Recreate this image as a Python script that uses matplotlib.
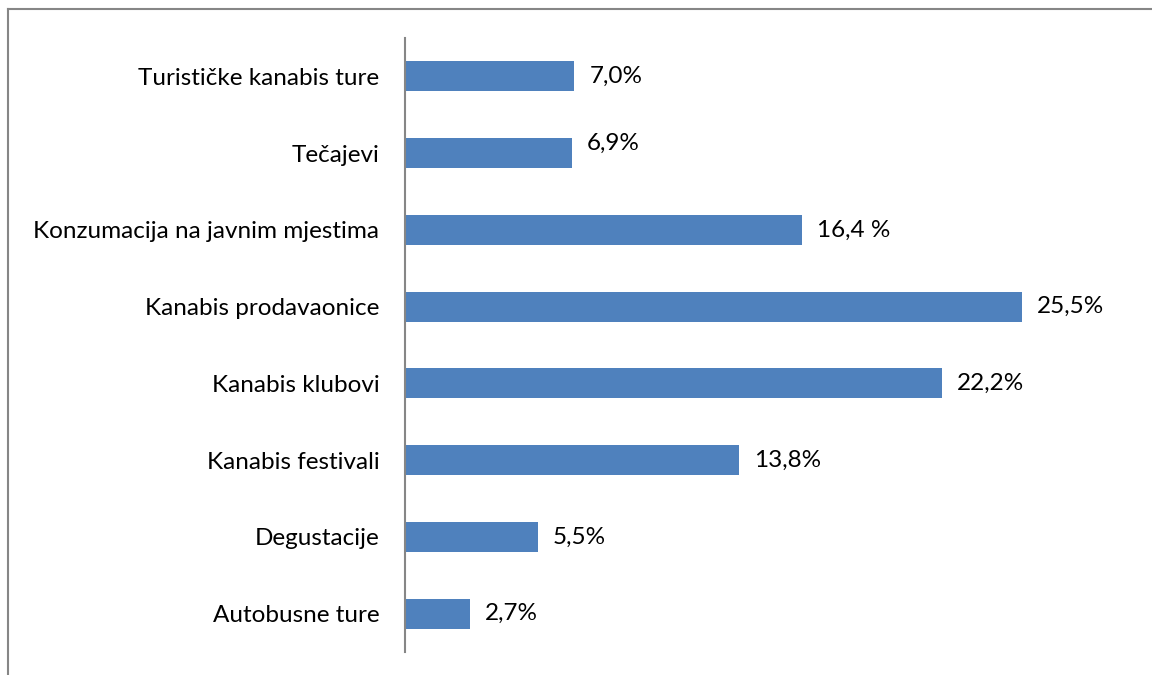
import matplotlib.pyplot as plt
from matplotlib.lines import Line2D

# data, top to bottom as in the chart
categories = ["Turističke kanabis ture", "Tečajevi", "Konzumacija na javnim mjestima",
              "Kanabis prodavaonice", "Kanabis klubovi", "Kanabis festivali",
              "Degustacije", "Autobusne ture"]
values = [7.0, 6.9, 16.4, 25.5, 22.2, 13.8, 5.5, 2.7]
value_labels = ["7,0%", "6,9%", "16,4 %", "25,5%", "22,2%", "13,8%", "5,5%", "2,7%"]

plt.rcParams["font.family"] = ["Lato", "DejaVu Sans"]

fig = plt.figure(figsize=(11.52, 6.75), dpi=100)
ax = fig.add_axes([0.3516, 0.0341, 0.63, 0.9096])

pos = list(range(len(categories)))[::-1]
ax.barh(pos, values, height=0.39, color="#4F81BD")

for p, v, lab in zip(pos, values, value_labels):
    dy = 0.13 if lab == "6,9%" else 0
    ax.text(v + 0.62, p + dy, lab, va="center", ha="left", fontsize=17.5, color="black")

ax.set_yticks(pos)
ax.set_yticklabels(categories, fontsize=17.5)
ax.tick_params(axis="y", length=0, pad=18.5)
ax.set_xticks([])
ax.set_xlim(0, 30)
ax.set_ylim(-0.5, 7.5)

for s in ["top", "right", "bottom"]:
    ax.spines[s].set_visible(False)
ax.spines["left"].set_color("#868686")
ax.spines["left"].set_linewidth(1.5)

# chart area border (top and left visible)
fig.add_artist(Line2D([8 / 1152, 1], [1 - 9 / 675, 1 - 9 / 675], color="#868686", lw=1.5,
                      transform=fig.transFigure))
fig.add_artist(Line2D([8 / 1152, 8 / 1152], [0, 1 - 9 / 675], color="#868686", lw=1.5,
                      transform=fig.transFigure))

fig.savefig("out.png", dpi=100)
